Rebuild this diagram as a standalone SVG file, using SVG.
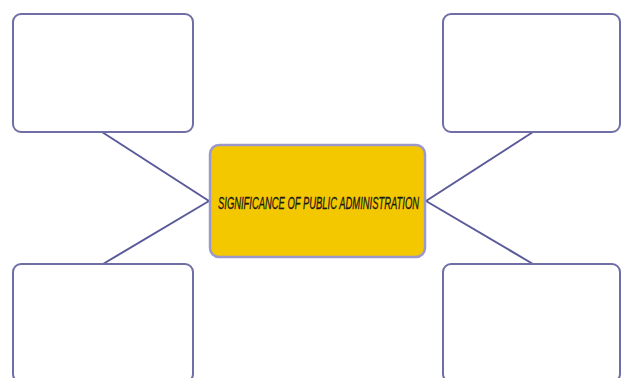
<svg xmlns="http://www.w3.org/2000/svg" width="622" height="378" viewBox="0 0 622 378">
<style>
.box{fill:#ffffff;stroke:#6f6fa6;stroke-width:2}
.center{fill:#f4c800;stroke:#9a98cc;stroke-width:2.5}
.conn{stroke:#5a5a9a;stroke-width:2;fill:none}
.lbl{font-family:"Liberation Sans Narrow","Liberation Sans",Arial,sans-serif;font-style:italic;font-size:16px;fill:#1a1a1a;stroke:#1a1a1a;stroke-width:0.3}
</style>
<rect width="622" height="378" fill="#ffffff"/>
<g id="connectors">
<line class="conn" x1="102" y1="132" x2="209" y2="201"/>
<line class="conn" x1="209" y1="201" x2="103" y2="264"/>
<line class="conn" x1="426" y1="201" x2="533" y2="132"/>
<line class="conn" x1="426" y1="201" x2="533" y2="264"/>
</g>
<g id="box-top-left"><rect class="box" x="13" y="14" width="180" height="118" rx="8"/></g>
<g id="box-top-right"><rect class="box" x="443" y="14" width="177" height="118" rx="8"/></g>
<g id="box-bottom-left"><rect class="box" x="13" y="264" width="180" height="118" rx="8"/></g>
<g id="box-bottom-right"><rect class="box" x="443" y="264" width="177" height="118" rx="8"/></g>
<g id="center">
<rect class="center" x="210" y="145" width="215" height="112" rx="9"/>
<text class="lbl" x="218" y="208.5" textLength="201" lengthAdjust="spacingAndGlyphs">SIGNIFICANCE OF PUBLIC ADMINISTRATION</text>
</g>
</svg>
